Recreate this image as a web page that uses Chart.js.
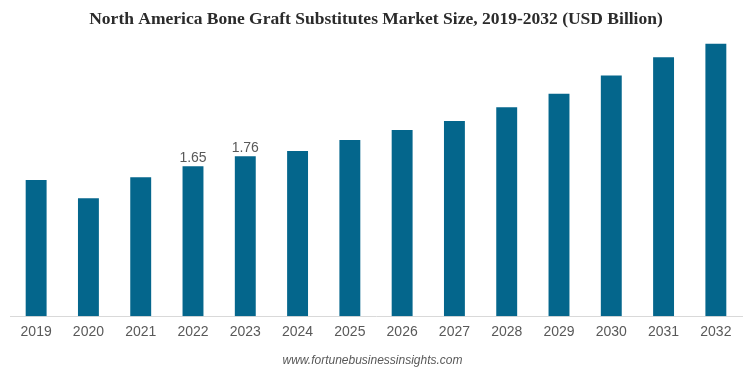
<!DOCTYPE html>
<html>
<head>
<meta charset="utf-8">
<script src="https://cdn.jsdelivr.net/npm/chart.js@4"></script>
<style>
  html, body { margin: 0; padding: 0; background: #ffffff; }
  #wrap { width: 745px; height: 372px; }
</style>
</head>
<body>
<div id="wrap"><canvas id="boneChart"></canvas></div>
<script>
// DATA

const years = ["2019", "2020", "2021", "2022", "2023", "2024", "2025",
               "2026", "2027", "2028", "2029", "2030", "2031", "2032"];

const marketSize = [1.50, 1.30, 1.53, 1.65, 1.76, 1.82, 1.94,
                    2.05, 2.15, 2.30, 2.45, 2.65, 2.85, 3.00];

// only these years carry a value label
const labelledYears = ["2022", "2023"];


// LABELS AND FOOTER

const extraText = {
    id: "extraText",
    afterDatasetsDraw(chart) {
        const ctx = chart.ctx;
        const meta = chart.getDatasetMeta(0);
        ctx.save();
        ctx.font = "14px 'Liberation Sans', Arial, sans-serif";
        ctx.fillStyle = "#595959";
        ctx.textAlign = "center";
        ctx.textBaseline = "bottom";
        meta.data.forEach((bar, i) => {
            if (labelledYears.includes(years[i])) {
                ctx.fillText(marketSize[i].toFixed(2), bar.x, bar.y - 1);
            }
        });
        ctx.font = "italic 12px 'Liberation Sans', Arial, sans-serif";
        ctx.textBaseline = "middle";
        ctx.fillText("www.fortunebusinessinsights.com", chart.width / 2, 361);
        ctx.restore();
    }
};


// CHART

const ctx = document.getElementById("boneChart");

new Chart(ctx, {
    type: "bar",
    data: {
        labels: years,
        datasets: [{
            data: marketSize,
            backgroundColor: "#04668C",
            barPercentage: 0.4,
            categoryPercentage: 1.0
        }]
    },
    options: {
        responsive: true,
        maintainAspectRatio: false,
        animation: false,
        layout: {
            padding: { left: 10, right: 3, top: 0, bottom: 23 }
        },
        plugins: {
            legend: { display: false },
            tooltip: { enabled: false },
            title: {
                display: true,
                text: "North America Bone Graft Substitutes Market Size, 2019-2032 (USD Billion)",
                color: "#2b2b2b",
                font: { family: "'Liberation Serif', 'Times New Roman', serif", size: 17.5, weight: "bold" },
                padding: { top: 9, bottom: 11 }
            }
        },
        scales: {
            x: {
                grid: { display: false, drawTicks: false },
                border: { display: true, color: "#d9d9d9", width: 1 },
                ticks: {
                    color: "#595959",
                    padding: 8,
                    font: { family: "'Liberation Sans', Arial, sans-serif", size: 14 }
                }
            },
            y: {
                display: false,
                min: 0,
                max: 3.03
            }
        }
    },
    plugins: [extraText]
});
</script>
</body>
</html>
